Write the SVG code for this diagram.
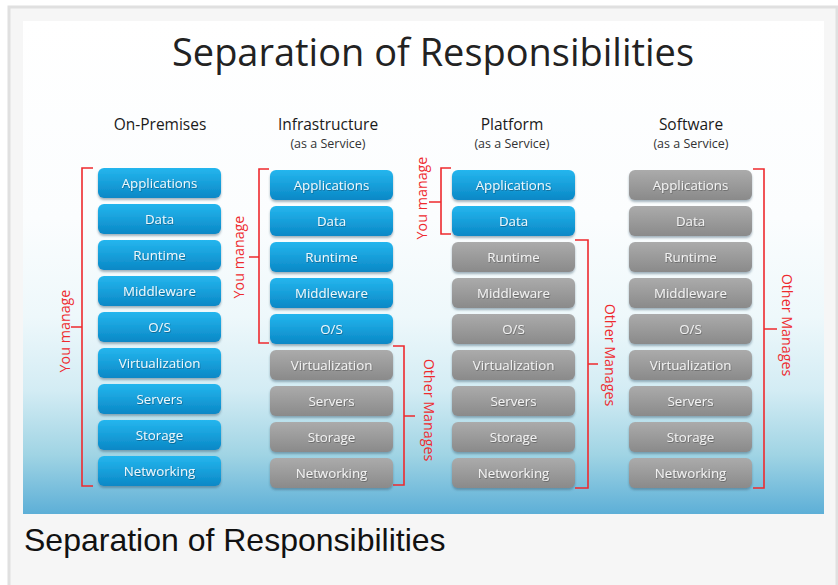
<svg xmlns="http://www.w3.org/2000/svg" width="838" height="585" viewBox="0 0 838 585">
<defs>
  <linearGradient id="bg" x1="0" y1="0" x2="0" y2="1">
    <stop offset="0" stop-color="#ffffff"/>
    <stop offset="0.4" stop-color="#fbfdfe"/>
    <stop offset="0.6" stop-color="#eef8fb"/>
    <stop offset="0.75" stop-color="#d3ecf4"/>
    <stop offset="0.88" stop-color="#a0d4e4"/>
    <stop offset="1" stop-color="#5dafd7"/>
  </linearGradient>
  <linearGradient id="blue" x1="0" y1="0" x2="0" y2="1">
    <stop offset="0" stop-color="#25b6ee"/>
    <stop offset="1" stop-color="#0a88c6"/>
  </linearGradient>
  <linearGradient id="gray" x1="0" y1="0" x2="0" y2="1">
    <stop offset="0" stop-color="#ababab"/>
    <stop offset="1" stop-color="#8a8a8a"/>
  </linearGradient>
  <filter id="sh" x="-10%" y="-20%" width="120%" height="160%">
    <feDropShadow dx="0" dy="2" stdDeviation="1.2" flood-color="#3a5a70" flood-opacity="0.45"/>
  </filter>
  <filter id="tsh" x="-10%" y="-30%" width="120%" height="160%">
    <feDropShadow dx="0.6" dy="0.8" stdDeviation="0.4" flood-color="#000" flood-opacity="0.35"/>
  </filter>
</defs>
<style>
  .frame { fill: #f6f6f6; stroke: #e0e0e0; stroke-width: 3; }
  .title { font-family: "Open Sans", "Noto Sans", sans-serif; font-size: 38px; fill: #222; text-anchor: middle; }
  .hdr { font-family: "Open Sans", "Noto Sans", sans-serif; font-size: 15.5px; fill: #1a1a1a; text-anchor: middle; }
  .sub { font-family: "Open Sans", "Noto Sans", sans-serif; font-size: 12.5px; fill: #333; text-anchor: middle; }
  .bb { fill: url(#blue); filter: url(#sh); }
  .gb { fill: url(#gray); filter: url(#sh); }
  .bt { font-family: "Open Sans", "Noto Sans", sans-serif; font-size: 13.3px; fill: #eef7fc; text-anchor: middle; filter: url(#tsh); }
  .gt { font-family: "Open Sans", "Noto Sans", sans-serif; font-size: 13.3px; fill: #f2f2f2; text-anchor: middle; filter: url(#tsh); }
  .br { fill: none; stroke: #ee2a2e; stroke-width: 1.6; }
  .rl { font-family: "Open Sans", "Noto Sans", sans-serif; font-size: 14.3px; fill: #ee2a2e; text-anchor: middle; }
  .cap { font-family: "Liberation Sans", Arial, sans-serif; font-size: 32px; fill: #111; }
</style>

<rect class="frame" x="9" y="7" width="828" height="590"/>
<rect x="23" y="21" width="801" height="493" fill="url(#bg)"/>

<text class="title" x="433" y="66" textLength="522" lengthAdjust="spacingAndGlyphs">Separation of Responsibilities</text>

<g id="headers">
  <text class="hdr" x="160" y="130">On-Premises</text>
  <text class="hdr" x="328" y="130">Infrastructure</text>
  <text class="sub" x="328" y="148">(as a Service)</text>
  <text class="hdr" x="512" y="130">Platform</text>
  <text class="sub" x="512" y="148">(as a Service)</text>
  <text class="hdr" x="691" y="130">Software</text>
  <text class="sub" x="691" y="148">(as a Service)</text>
</g>

<!-- Column 1: On-Premises -->
<g id="col-onprem">
  <g id="op-applications"><rect class="bb" x="98" y="168" width="123" height="30" rx="6"/><text class="bt" x="159.5" y="188">Applications</text></g>
  <g id="op-data"><rect class="bb" x="98" y="204" width="123" height="30" rx="6"/><text class="bt" x="159.5" y="224">Data</text></g>
  <g id="op-runtime"><rect class="bb" x="98" y="240" width="123" height="30" rx="6"/><text class="bt" x="159.5" y="260">Runtime</text></g>
  <g id="op-middleware"><rect class="bb" x="98" y="276" width="123" height="30" rx="6"/><text class="bt" x="159.5" y="296">Middleware</text></g>
  <g id="op-os"><rect class="bb" x="98" y="312" width="123" height="30" rx="6"/><text class="bt" x="159.5" y="332">O/S</text></g>
  <g id="op-virtualization"><rect class="bb" x="98" y="348" width="123" height="30" rx="6"/><text class="bt" x="159.5" y="368">Virtualization</text></g>
  <g id="op-servers"><rect class="bb" x="98" y="384" width="123" height="30" rx="6"/><text class="bt" x="159.5" y="404">Servers</text></g>
  <g id="op-storage"><rect class="bb" x="98" y="420" width="123" height="30" rx="6"/><text class="bt" x="159.5" y="440">Storage</text></g>
  <g id="op-networking"><rect class="bb" x="98" y="456" width="123" height="30" rx="6"/><text class="bt" x="159.5" y="476">Networking</text></g>
</g>

<!-- Column 2: IaaS -->
<g id="col-iaas">
  <g id="ia-applications"><rect class="bb" x="270" y="170" width="123" height="30" rx="6"/><text class="bt" x="331.5" y="190">Applications</text></g>
  <g id="ia-data"><rect class="bb" x="270" y="206" width="123" height="30" rx="6"/><text class="bt" x="331.5" y="226">Data</text></g>
  <g id="ia-runtime"><rect class="bb" x="270" y="242" width="123" height="30" rx="6"/><text class="bt" x="331.5" y="262">Runtime</text></g>
  <g id="ia-middleware"><rect class="bb" x="270" y="278" width="123" height="30" rx="6"/><text class="bt" x="331.5" y="298">Middleware</text></g>
  <g id="ia-os"><rect class="bb" x="270" y="314" width="123" height="30" rx="6"/><text class="bt" x="331.5" y="334">O/S</text></g>
  <g id="ia-virtualization"><rect class="gb" x="270" y="350" width="123" height="30" rx="6"/><text class="gt" x="331.5" y="370">Virtualization</text></g>
  <g id="ia-servers"><rect class="gb" x="270" y="386" width="123" height="30" rx="6"/><text class="gt" x="331.5" y="406">Servers</text></g>
  <g id="ia-storage"><rect class="gb" x="270" y="422" width="123" height="30" rx="6"/><text class="gt" x="331.5" y="442">Storage</text></g>
  <g id="ia-networking"><rect class="gb" x="270" y="458" width="123" height="30" rx="6"/><text class="gt" x="331.5" y="478">Networking</text></g>
</g>

<!-- Column 3: PaaS -->
<g id="col-paas">
  <g id="pa-applications"><rect class="bb" x="452" y="170" width="123" height="30" rx="6"/><text class="bt" x="513.5" y="190">Applications</text></g>
  <g id="pa-data"><rect class="bb" x="452" y="206" width="123" height="30" rx="6"/><text class="bt" x="513.5" y="226">Data</text></g>
  <g id="pa-runtime"><rect class="gb" x="452" y="242" width="123" height="30" rx="6"/><text class="gt" x="513.5" y="262">Runtime</text></g>
  <g id="pa-middleware"><rect class="gb" x="452" y="278" width="123" height="30" rx="6"/><text class="gt" x="513.5" y="298">Middleware</text></g>
  <g id="pa-os"><rect class="gb" x="452" y="314" width="123" height="30" rx="6"/><text class="gt" x="513.5" y="334">O/S</text></g>
  <g id="pa-virtualization"><rect class="gb" x="452" y="350" width="123" height="30" rx="6"/><text class="gt" x="513.5" y="370">Virtualization</text></g>
  <g id="pa-servers"><rect class="gb" x="452" y="386" width="123" height="30" rx="6"/><text class="gt" x="513.5" y="406">Servers</text></g>
  <g id="pa-storage"><rect class="gb" x="452" y="422" width="123" height="30" rx="6"/><text class="gt" x="513.5" y="442">Storage</text></g>
  <g id="pa-networking"><rect class="gb" x="452" y="458" width="123" height="30" rx="6"/><text class="gt" x="513.5" y="478">Networking</text></g>
</g>

<!-- Column 4: SaaS -->
<g id="col-saas">
  <g id="sa-applications"><rect class="gb" x="629" y="170" width="123" height="30" rx="6"/><text class="gt" x="690.5" y="190">Applications</text></g>
  <g id="sa-data"><rect class="gb" x="629" y="206" width="123" height="30" rx="6"/><text class="gt" x="690.5" y="226">Data</text></g>
  <g id="sa-runtime"><rect class="gb" x="629" y="242" width="123" height="30" rx="6"/><text class="gt" x="690.5" y="262">Runtime</text></g>
  <g id="sa-middleware"><rect class="gb" x="629" y="278" width="123" height="30" rx="6"/><text class="gt" x="690.5" y="298">Middleware</text></g>
  <g id="sa-os"><rect class="gb" x="629" y="314" width="123" height="30" rx="6"/><text class="gt" x="690.5" y="334">O/S</text></g>
  <g id="sa-virtualization"><rect class="gb" x="629" y="350" width="123" height="30" rx="6"/><text class="gt" x="690.5" y="370">Virtualization</text></g>
  <g id="sa-servers"><rect class="gb" x="629" y="386" width="123" height="30" rx="6"/><text class="gt" x="690.5" y="406">Servers</text></g>
  <g id="sa-storage"><rect class="gb" x="629" y="422" width="123" height="30" rx="6"/><text class="gt" x="690.5" y="442">Storage</text></g>
  <g id="sa-networking"><rect class="gb" x="629" y="458" width="123" height="30" rx="6"/><text class="gt" x="690.5" y="478">Networking</text></g>
</g>

<!-- Brackets -->
<g id="connectors">
  <path class="br" d="M93,168 H82 V486 H93 M82,327 H71"/>
  <path class="br" d="M269,169 H259 V343 H269 M259,257 H249"/>
  <path class="br" d="M393,346 H404 V485 H393 M404,416 H415"/>
  <path class="br" d="M451,168 H441 V234 H451 M441,202 H429"/>
  <path class="br" d="M575,240 H588 V488 H575 M588,364 H598"/>
  <path class="br" d="M753,169 H764 V488 H753 M764,329 H777"/>
</g>

<g id="labels">
  <text class="rl" transform="translate(70,331) rotate(-90)">You manage</text>
  <text class="rl" transform="translate(244,257) rotate(-90)">You manage</text>
  <text class="rl" transform="translate(427,198) rotate(-90)">You manage</text>
  <text class="rl" transform="translate(424,410) rotate(90)">Other Manages</text>
  <text class="rl" transform="translate(605,355) rotate(90)">Other Manages</text>
  <text class="rl" transform="translate(782,325) rotate(90)">Other Manages</text>
</g>

<text class="cap" x="24" y="551">Separation of Responsibilities</text>
</svg>
